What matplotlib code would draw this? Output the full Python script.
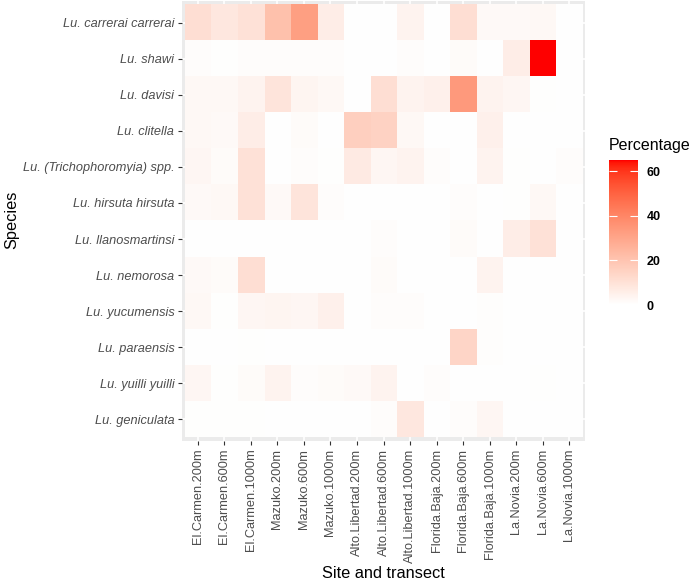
import numpy as np
import matplotlib
matplotlib.use('Agg')
import matplotlib.pyplot as plt
from matplotlib.colors import ListedColormap

plt.rcParams['font.family'] = ['Liberation Sans', 'DejaVu Sans']

sites = ['El.Carmen.200m', 'El.Carmen.600m', 'El.Carmen.1000m',
         'Mazuko.200m', 'Mazuko.600m', 'Mazuko.1000m',
         'Alto.Libertad.200m', 'Alto.Libertad.600m', 'Alto.Libertad.1000m',
         'Florida.Baja.200m', 'Florida.Baja.600m', 'Florida.Baja.1000m',
         'La.Novia.200m', 'La.Novia.600m', 'La.Novia.1000m']

species = ['Lu. carrerai carrerai', 'Lu. shawi', 'Lu. davisi', 'Lu. clitella',
           'Lu. (Trichophoromyia) spp.', 'Lu. hirsuta hirsuta', 'Lu. llanosmartinsi',
           'Lu. nemorosa', 'Lu. yucumensis', 'Lu. paraensis', 'Lu. yuilli yuilli',
           'Lu. geniculata']

# percentage per species (rows) and site/transect (columns)
carrerai = [11, 8, 10, 21, 32, 6, 0, 0, 4, 0, 11, 2, 2, 2.5, 0]
shawi = [1, 0.5, 1, 1, 1, 1, 0, 0, 1, 0, 1.5, 0, 6, 65, 0]
davisi = [2.5, 2.5, 4, 9, 3.5, 2.5, 0, 11, 4, 5, 34, 4, 3, 0.5, 0]
clitella = [2.5, 2, 6, 0, 1.5, 0, 16, 15, 2.5, 0, 0, 5, 0, 0, 0]
tricho = [3, 1.5, 10, 0, 1, 0.5, 7, 3, 4, 1, 0, 4, 0.5, 0, 1]
hirsuta = [2, 2.5, 10, 2, 9, 1, 0, 0, 0, 0, 1, 0, 0.5, 2.5, 0]
llanos = [0, 0, 0, 0, 0, 0, 0, 1, 0, 0, 1.5, 0, 6, 10, 0]
nemorosa = [2, 1.5, 11, 0, 0, 0, 0, 1.5, 0, 0, 0, 4, 0, 0, 0]
yucumensis = [2.5, 0.5, 3, 3.5, 3, 5, 0, 1, 1, 0, 0, 0.7, 0, 0, 0]
paraensis = [0, 0, 0.5, 0, 0, 0, 0, 0, 0, 0, 14, 0.7, 0, 0, 0]
yuilli = [3, 0.3, 1.5, 4, 1, 1.5, 2, 4, 0, 1, 0, 0, 0, 0.5, 0]
geniculata = [0.3, 0.3, 0.5, 0, 0, 0, 0, 1, 8, 0, 1, 3, 0, 0, 0]

pct = np.array([carrerai, shawi, davisi, clitella, tricho, hirsuta, llanos,
                nemorosa, yucumensis, paraensis, yuilli, geniculata])


def lab_to_rgb(L, a, b):
    # CIELab (D65) -> sRGB, used to mimic ggplot's gradient interpolation
    fy = (L + 16) / 116
    fx = fy + a / 500
    fz = fy - b / 200
    def finv(t):
        return np.where(t > 6 / 29, t ** 3, 3 * (6 / 29) ** 2 * (t - 4 / 29))
    X = 0.95047 * finv(fx)
    Y = finv(fy)
    Z = 1.08883 * finv(fz)
    r = 3.2406 * X - 1.5372 * Y - 0.4986 * Z
    g = -0.9689 * X + 1.8758 * Y + 0.0415 * Z
    bl = 0.0557 * X - 0.2040 * Y + 1.0570 * Z
    rgb = np.clip(np.stack([r, g, bl], axis=-1), 0, 1)
    return np.where(rgb <= 0.0031308, 12.92 * rgb, 1.055 * rgb ** (1 / 2.4) - 0.055)


t = np.linspace(0, 1, 256)
cmap = ListedColormap(np.clip(lab_to_rgb(100 - 46.76 * t, 80.09 * t, 67.20 * t), 0, 1))

fig = plt.figure(figsize=(6.94, 5.8), dpi=100)
ax = fig.add_axes([182 / 694, 1 - 441 / 580, 403 / 694, 440 / 580])
ax.set_facecolor('#EBEBEB')

im = ax.imshow(pct, cmap=cmap, vmin=0, vmax=pct.max(), aspect='auto',
               interpolation='nearest', extent=(0.5, len(sites) + 0.5, len(species) + 0.5, 0.5),
               zorder=1)

ax.set_xlim(0.4, len(sites) + 0.6)
ax.set_ylim(len(species) + 0.6, 0.4)
ax.set_xticks(np.arange(1, len(sites) + 1))
ax.set_xticklabels(sites, rotation=90, fontsize=9.2, color='#4D4D4D')
ax.set_yticks(np.arange(1, len(species) + 1))
ax.set_yticklabels(species, fontsize=9.2, color='#4D4D4D', style='italic')
ax.tick_params(length=3, width=0.8, color='#333333', pad=2.5)
ax.grid(True, color='white', linewidth=1.2)
ax.set_axisbelow(True)
for s in ax.spines.values():
    s.set_visible(False)

fig.text(383.5 / 694, 1 - 573 / 580, 'Site and transect', ha='center', va='center', fontsize=11.8)
fig.text(12 / 694, 1 - 220 / 580, 'Species', ha='center', va='center', rotation=90, fontsize=11.8)

# colour bar legend
cax = fig.add_axes([609 / 694, 1 - 305 / 580, 29 / 694, 145 / 580])
cb = fig.colorbar(im, cax=cax, ticks=[0, 20, 40, 60])
cb.outline.set_visible(False)
cax.tick_params(direction='in', color='white', length=5.5, width=0.8, left=True, right=True, pad=6)
for lab in cax.get_yticklabels():
    lab.set_fontweight('bold')
    lab.set_fontsize(9)
fig.text(609 / 694, 1 - 146 / 580, 'Percentage', ha='left', va='center', fontsize=11.5)

fig.savefig('out.png', dpi=100)
